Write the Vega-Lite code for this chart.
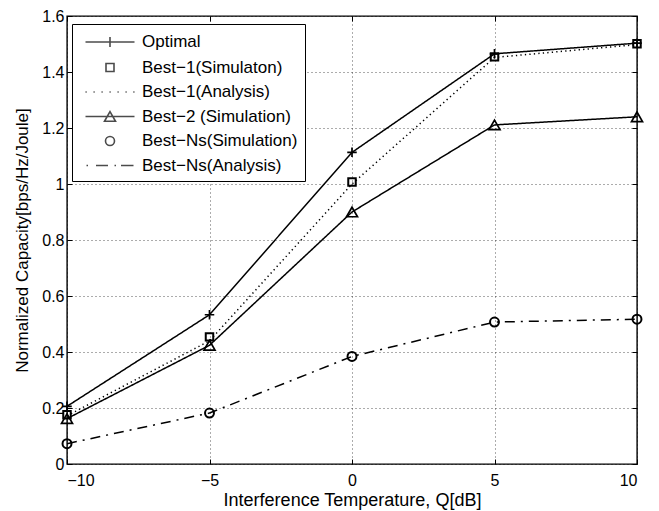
{
  "$schema": "https://vega.github.io/schema/vega-lite/v6.json",
  "width": 570,
  "height": 448,
  "autosize": {"type": "none"},
  "padding": {"left": 67, "top": 16, "right": 22, "bottom": 47},
  "background": "white",
  "config": {
    "font": "Liberation Sans",
    "view": {"stroke": "black", "strokeWidth": 1.4},
    "axis": {
      "labelFont": "Liberation Sans",
      "titleFont": "Liberation Sans",
      "labelColor": "black",
      "titleColor": "black",
      "titleFontWeight": "normal",
      "labelFontSize": 16,
      "titleFontSize": 17,
      "tickColor": "black",
      "tickWidth": 1,
      "domain": false
    }
  },
  "datasets": {
    "d": [
      {"series": "Optimal", "Q": -10, "C": 0.206},
      {"series": "Optimal", "Q": -5, "C": 0.533},
      {"series": "Optimal", "Q": 0, "C": 1.113},
      {"series": "Optimal", "Q": 5, "C": 1.465},
      {"series": "Optimal", "Q": 10, "C": 1.503},
      {"series": "Best−1(Simulaton)", "Q": -10, "C": 0.176},
      {"series": "Best−1(Simulaton)", "Q": -5, "C": 0.454},
      {"series": "Best−1(Simulaton)", "Q": 0, "C": 1.007},
      {"series": "Best−1(Simulaton)", "Q": 5, "C": 1.454},
      {"series": "Best−1(Simulaton)", "Q": 10, "C": 1.501},
      {"series": "Best−1(Analysis)", "Q": -10, "C": 0.172},
      {"series": "Best−1(Analysis)", "Q": -5, "C": 0.44},
      {"series": "Best−1(Analysis)", "Q": 0, "C": 1.0},
      {"series": "Best−1(Analysis)", "Q": 5, "C": 1.452},
      {"series": "Best−1(Analysis)", "Q": 10, "C": 1.498},
      {"series": "Best−2 (Simulation)", "Q": -10, "C": 0.162},
      {"series": "Best−2 (Simulation)", "Q": -5, "C": 0.424},
      {"series": "Best−2 (Simulation)", "Q": 0, "C": 0.9},
      {"series": "Best−2 (Simulation)", "Q": 5, "C": 1.211},
      {"series": "Best−2 (Simulation)", "Q": 10, "C": 1.24},
      {"series": "Best−Ns(Simulation)", "Q": -10, "C": 0.0725},
      {"series": "Best−Ns(Simulation)", "Q": -5, "C": 0.182},
      {"series": "Best−Ns(Simulation)", "Q": 0, "C": 0.384},
      {"series": "Best−Ns(Simulation)", "Q": 5, "C": 0.507},
      {"series": "Best−Ns(Simulation)", "Q": 10, "C": 0.517},
      {"series": "Best−Ns(Analysis)", "Q": -10, "C": 0.0725},
      {"series": "Best−Ns(Analysis)", "Q": -5, "C": 0.182},
      {"series": "Best−Ns(Analysis)", "Q": 0, "C": 0.384},
      {"series": "Best−Ns(Analysis)", "Q": 5, "C": 0.507},
      {"series": "Best−Ns(Analysis)", "Q": 10, "C": 0.517}
    ],
    "lg": [
      {"series": "Optimal"},
      {"series": "Best−1(Simulaton)"},
      {"series": "Best−1(Analysis)"},
      {"series": "Best−2 (Simulation)"},
      {"series": "Best−Ns(Simulation)"},
      {"series": "Best−Ns(Analysis)"}
    ]
  },
  "resolve": {"axis": {"x": "independent", "y": "independent"}},
  "layer": [
    {
      "data": {"name": "d"},
      "transform": [{"filter": {"field": "series", "oneOf": ["Optimal", "Best−1(Analysis)", "Best−2 (Simulation)", "Best−Ns(Analysis)"]}}],
      "mark": {"type": "line", "color": "black", "strokeWidth": 1.5},
      "encoding": {
        "x": {
          "field": "Q", "type": "quantitative",
          "scale": {"domain": [-10, 10], "nice": false, "zero": false},
          "axis": {"orient": "bottom", "values": [-10, -5, 0, 5, 10], "format": "~r", "tickSize": -5, "grid": true, "gridDash": [1, 3], "gridColor": "black", "gridOpacity": 0.65, "labelPadding": 13, "title": "Interference Temperature, Q[dB]", "titleFontSize": 18, "titlePadding": 3}
        },
        "y": {
          "field": "C", "type": "quantitative",
          "scale": {"domain": [0, 1.6], "nice": false, "zero": false},
          "axis": {"orient": "left", "values": [0, 0.2, 0.4, 0.6, 0.8, 1, 1.2, 1.4, 1.6], "format": "~r", "tickSize": -5, "grid": true, "gridDash": [1, 3], "gridColor": "black", "gridOpacity": 0.65, "labelPadding": 8, "title": "Normalized Capacity[bps/Hz/Joule]", "titlePadding": 10}
        },
        "strokeDash": {
          "field": "series", "type": "nominal",
          "scale": {"domain": ["Optimal", "Best−1(Analysis)", "Best−2 (Simulation)", "Best−Ns(Analysis)"], "range": [[1, 0], [1.3, 3.2], [1, 0], [10, 6, 2, 6]]},
          "legend": null
        }
      }
    },
    {
      "data": {"name": "lg"},
      "mark": {"type": "point", "filled": false, "color": "black", "strokeWidth": 1.5, "size": 400},
      "encoding": {
        "x": {"field": "Q", "type": "quantitative", "axis": {"orient": "top", "values": [-10, -5, 0, 5, 10], "labels": false, "tickSize": -5, "grid": false, "title": null}},
        "y": {"field": "C", "type": "quantitative", "axis": {"orient": "right", "values": [0, 0.2, 0.4, 0.6, 0.8, 1, 1.2, 1.4, 1.6], "labels": false, "tickSize": -5, "grid": false, "title": null}},
        "shape": {
          "field": "series", "type": "nominal",
          "scale": {
            "domain": ["Optimal", "Best−1(Simulaton)", "Best−1(Analysis)", "Best−2 (Simulation)", "Best−Ns(Simulation)", "Best−Ns(Analysis)"],
            "range": [
              "M-2.45,0H2.45M0,-0.5V0.5",
              "M-0.4,-0.4H0.4V0.4H-0.4Z",
              "M-2.45,0h0.12M-1.65,0h0.12M-0.85,0h0.12M-0.05,0h0.12M0.75,0h0.12M1.55,0h0.12M2.33,0h0.12",
              "M-2.45,0H2.45M0,-0.48L0.55,0.48L-0.55,0.48Z",
              "M-0.45,0A0.45,0.45,0,1,1,0.45,0A0.45,0.45,0,1,1,-0.45,0Z",
              "M-2.35,0h0.15M-1.4,0H-0.2M0.45,0h0.15M1.1,0H2.35"
            ]
          },
          "legend": {
            "title": null,
            "orient": "none",
            "legendX": 5,
            "legendY": 8,
            "padding": 7,
            "strokeColor": "black",
            "fillColor": "white",
            "symbolSize": 400,
            "symbolStrokeWidth": 1.6,
            "symbolStrokeColor": "black",
            "symbolOffset": 20,
            "labelOffset": 21,
            "labelFont": "Liberation Sans",
            "labelFontSize": 17,
            "labelColor": "black",
            "labelLimit": 400,
            "rowPadding": 5.5
          }
        }
      }
    },
    {
      "data": {"name": "d"},
      "transform": [{"filter": "datum.series === 'Optimal'"}],
      "mark": {"type": "point", "filled": false, "color": "black", "strokeWidth": 1.7, "size": 90, "shape": "M-1,0H1M0,-1V1", "opacity": 1},
      "encoding": {
        "x": {"field": "Q", "type": "quantitative", "axis": null},
        "y": {"field": "C", "type": "quantitative", "axis": null}
      }
    },
    {
      "data": {"name": "d"},
      "transform": [{"filter": "datum.series === 'Best−1(Simulaton)'"}],
      "mark": {"type": "point", "filled": false, "color": "black", "strokeWidth": 2, "size": 56, "shape": "square", "opacity": 1},
      "encoding": {
        "x": {"field": "Q", "type": "quantitative", "axis": null},
        "y": {"field": "C", "type": "quantitative", "axis": null}
      }
    },
    {
      "data": {"name": "d"},
      "transform": [{"filter": "datum.series === 'Best−2 (Simulation)'"}],
      "mark": {"type": "point", "filled": false, "color": "black", "strokeWidth": 1.7, "size": 121, "shape": "triangle-up", "opacity": 1},
      "encoding": {
        "x": {"field": "Q", "type": "quantitative", "axis": null},
        "y": {"field": "C", "type": "quantitative", "axis": null}
      }
    },
    {
      "data": {"name": "d"},
      "transform": [{"filter": "datum.series === 'Best−Ns(Simulation)'"}],
      "mark": {"type": "point", "filled": false, "color": "black", "strokeWidth": 2, "size": 80, "shape": "circle", "opacity": 1},
      "encoding": {
        "x": {"field": "Q", "type": "quantitative", "axis": null},
        "y": {"field": "C", "type": "quantitative", "axis": null}
      }
    }
  ]
}
